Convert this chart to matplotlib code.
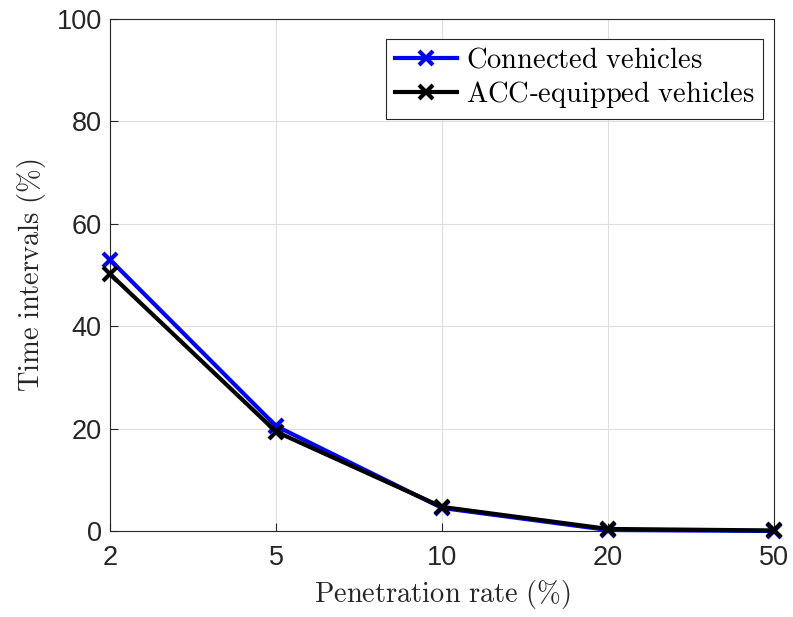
import matplotlib
matplotlib.use("Agg")
import matplotlib.pyplot as plt

plt.rcParams['font.family'] = ['Liberation Sans', 'DejaVu Sans']
plt.rcParams['mathtext.fontset'] = 'cm'

rates = ["2", "5", "10", "20", "50"]
connected = [53.0, 20.5, 4.5, 0.2, 0.0]
acc = [50.2, 19.4, 4.7, 0.4, 0.1]

x = list(range(len(rates)))

fig = plt.figure(figsize=(7.93, 6.17), dpi=100)
ax = fig.add_axes([0.1387, 0.1394, 0.8373, 0.8298])

ax.plot(x, connected, color="blue", marker="x", markersize=10, markeredgewidth=3,
        linewidth=3, label=r"$\mathrm{Connected\ vehicles}$", clip_on=False, zorder=3)
ax.plot(x, acc, color="black", marker="x", markersize=10, markeredgewidth=3,
        linewidth=3, label=r"$\mathrm{ACC}$-$\mathrm{equipped\ vehicles}$", clip_on=False, zorder=4)

ax.set_xlim(0, len(rates) - 1)
ax.set_ylim(0, 100)
ax.set_xticks(x)
ax.set_xticklabels(rates)
ax.set_yticks([0, 20, 40, 60, 80, 100])
ax.tick_params(direction="in", labelsize=19.5, length=6, colors="#262626")
ax.tick_params(axis="x", pad=10)
ax.tick_params(axis="y", pad=6)
for s in ax.spines.values():
    s.set_color("#262626")
    s.set_linewidth(0.8)
ax.grid(True, color="#dfdfdf", linewidth=0.8)
ax.set_axisbelow(True)

ax.set_xlabel(r"$\mathrm{Penetration\ rate\ (\%)}$", fontsize=20.5, color="#262626", labelpad=5)
ax.set_ylabel(r"$\mathrm{Time\ intervals\ (\%)}$", fontsize=20.5, color="#262626", labelpad=6)

leg = ax.legend(loc="upper right", bbox_to_anchor=(0.9834, 0.961), fontsize=20.5,
                fancybox=False, framealpha=1, edgecolor="#262626", handlelength=2.2,
                borderaxespad=0, handletextpad=0.3, borderpad=0.3, labelspacing=0.2)
leg.get_frame().set_linewidth(0.8)

fig.savefig("out.png", dpi=100)
